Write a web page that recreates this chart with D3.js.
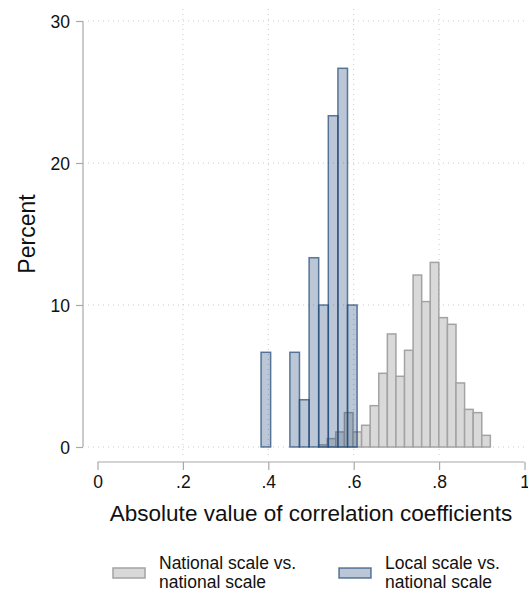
<!DOCTYPE html>
<html><head><meta charset="utf-8">
<script src="https://cdn.jsdelivr.net/npm/d3@7"></script>
<style>
body{margin:0;background:#fff;}
svg{display:block;font-family:"Liberation Sans",Arial,Helvetica,sans-serif;}
</style></head>
<body><svg id="c" width="528" height="592"></svg>
<script>
// ---- data ----
const nationalBinStart = 0.518;
const nationalBinWidth = 0.0201;
const nationalPercent = [0.15,0.59,1.06,2.42,1.06,1.53,2.91,5.19,7.96,4.98,6.81,12.11,10.24,13.0,9.11,8.64,4.51,2.65,2.42,0.82];
const localBinStart = 0.383;
const localBinWidth = 0.0225;
const localPercent = [6.67,0,0,6.67,3.33,13.33,10,23.33,26.67,10];
const xTicks = [0,0.2,0.4,0.6,0.8,1];
const xTickLabels = ["0",".2",".4",".6",".8","1"];
const yTicks = [0,10,20,30];
const seriesNames = [["National scale vs.","national scale"],["Local scale vs.","national scale"]];
const xTitle = "Absolute value of correlation coefficients";
const yTitle = "Percent";

// ---- chart ----
const svg = d3.select("#c");
const x = d3.scaleLinear().domain([0,1]).range([97.5,524.5]);
const y = d3.scaleLinear().domain([0,30]).range([447,21]);

const gridC = "#c9c9c9", axisC = "#a8a8a8";
// horizontal grid
svg.append("g").selectAll("line").data(yTicks).join("line")
  .attr("x1",88).attr("x2",528).attr("y1",d=>y(d)).attr("y2",d=>y(d))
  .attr("stroke",gridC).attr("stroke-width",1).attr("stroke-dasharray","1,4");
// vertical grid
svg.append("g").selectAll("line").data(xTicks.filter(d=>d>0&&d<1)).join("line")
  .attr("x1",d=>x(d)).attr("x2",d=>x(d)).attr("y1",9).attr("y2",457)
  .attr("stroke",gridC).attr("stroke-width",1).attr("stroke-dasharray","1,4");

const natBins = nationalPercent.map((v,i)=>({x0:nationalBinStart+i*nationalBinWidth,x1:nationalBinStart+(i+1)*nationalBinWidth,v}));
const locBins = localPercent.map((v,i)=>({x0:localBinStart+i*localBinWidth,x1:localBinStart+(i+1)*localBinWidth,v})).filter(d=>d.v>0);

svg.append("g").selectAll("rect").data(natBins).join("rect")
  .attr("x",d=>x(d.x0)).attr("width",d=>x(d.x1)-x(d.x0))
  .attr("y",d=>y(d.v)).attr("height",d=>y(0)-y(d.v))
  .attr("fill","#d9d9d9").attr("stroke","#a3a3a3").attr("stroke-width",1.5);

svg.append("g").selectAll("rect").data(locBins).join("rect")
  .attr("x",d=>x(d.x0)).attr("width",d=>x(d.x1)-x(d.x0))
  .attr("y",d=>y(d.v)).attr("height",d=>y(0)-y(d.v))
  .attr("fill","rgba(30,70,120,0.3)").attr("stroke","rgba(35,75,120,0.72)").attr("stroke-width",1.5);

// y axis
const ya = svg.append("g").attr("transform","translate(83,0)")
  .call(d3.axisLeft(y).tickValues(yTicks).tickSize(7).tickPadding(6).tickFormat(d3.format("d")));
ya.select(".domain").attr("stroke",axisC).attr("stroke-width",1.2).attr("d",`M0,${y(30)}V${y(0)}`);
ya.selectAll(".tick line").attr("stroke",axisC).attr("stroke-width",1.2);
ya.selectAll(".tick text").attr("fill","#111").style("font-size","17.5px").attr("dy","0.35em");

// x axis
const xa = svg.append("g").attr("transform","translate(0,462)")
  .call(d3.axisBottom(x).tickValues(xTicks).tickSize(8).tickPadding(6).tickFormat((d,i)=>xTickLabels[i]));
xa.select(".domain").attr("stroke",axisC).attr("stroke-width",1.2).attr("d",`M${x(0)},0H${x(1)}`);
xa.selectAll(".tick line").attr("stroke",axisC).attr("stroke-width",1.2);
xa.selectAll(".tick text").attr("fill","#111").style("font-size","17.5px").attr("dy","0.71em");

// titles
svg.append("text").attr("x",311).attr("y",521).attr("text-anchor","middle")
  .style("font-size","22.5px").attr("fill","#111").text(xTitle);
svg.append("text").attr("transform","translate(35,234) rotate(-90)").attr("text-anchor","middle")
  .style("font-size","23px").attr("fill","#111").text(yTitle);

// legend
const leg = [{x:113,fill:"#d9d9d9",stroke:"#a3a3a3"},{x:339,fill:"rgba(30,70,120,0.3)",stroke:"rgba(35,75,120,0.72)"}];
leg.forEach((l,i)=>{
  svg.append("rect").attr("x",l.x).attr("y",568).attr("width",32).attr("height",10)
    .attr("fill",l.fill).attr("stroke",l.stroke).attr("stroke-width",1.5);
  seriesNames[i].forEach((s,j)=>svg.append("text").attr("x",l.x+46).attr("y",569+j*19)
    .style("font-size","17.5px").attr("fill","#111").text(s));
});
</script></body></html>
